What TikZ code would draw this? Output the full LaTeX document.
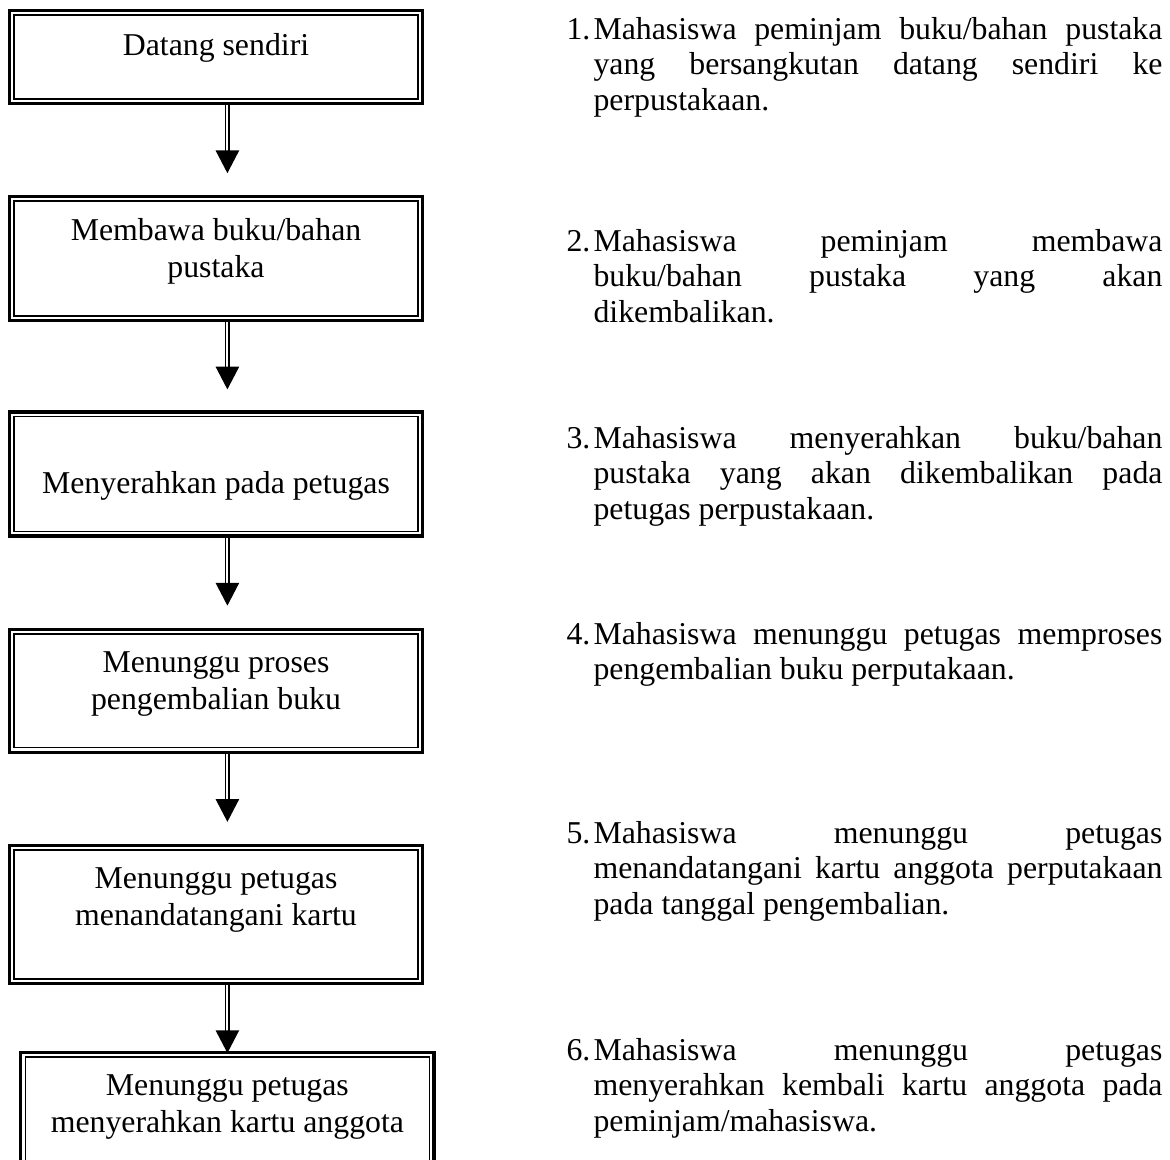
\documentclass[tikz,border=0pt]{standalone}
\usepackage{fontspec}
\setmainfont{Liberation Serif}
\usepackage{tikz}
\usetikzlibrary{
    arrows.meta,
    positioning
}

\begin{document}
\begin{tikzpicture}[
        x=0.3774pt,
        y=0.3774pt,
        node distance=34pt,
        stepbox/.style={
            rectangle,
            draw,
            line width=1.2pt,
            inner sep=0pt,
            minimum width=155.9pt
        },
        boxtext/.style={
            align=center,
            inner sep=0pt,
            font=\fontsize{12}{14}\selectfont
        },
        desc/.style={
            anchor=base west,
            inner sep=0pt,
            text width=224.9pt,
            align=justify,
            font=\fontsize{12}{13.4}\selectfont,
            execute at begin node={\tolerance=10000\hbadness=10000\hyphenpenalty=10000\hangindent=10.2pt\hangafter=1}
        },
        line/.style={
            double,
            double distance=0.8pt,
            line width=0.6pt,
            -{Triangle[width=8.8pt,length=8.6pt]},
            shorten >=8.3pt
        }
    ]

    \useasboundingbox (0,0) rectangle (1170,-1159);

    % flow boxes
    \node[stepbox, minimum height=35.1pt] (s1) at (216,-57) {};
    \node[stepbox, minimum height=46.8pt, below=of s1] (s2) {};
    \node[stepbox, minimum height=46.8pt, below=33.2pt of s2] (s3) {};
    \node[stepbox, minimum height=46.4pt, below=of s3] (s4) {};
    \node[stepbox, minimum height=52.1pt, below=of s4] (s5) {};
    \node[stepbox, minimum height=47.2pt, below=24.9pt of s5, xshift=4.3pt] (s6) {};

    % inner border line
    \foreach \n in {s1,s2,s3,s4,s5,s6}
        \draw[line width=0.6pt] ([shift={(2.3pt,-2.3pt)}]\n.north west)
            rectangle ([shift={(-2.3pt,2.3pt)}]\n.south east);

    \node[boxtext] (t1) at ([yshift=-14.6pt]s1.north) {Datang sendiri};
    \node[boxtext] (t2) at ([yshift=-21.3pt]s2.north) {Membawa buku/bahan\\pustaka};
    \node[boxtext] (t3) at ([yshift=-28.5pt]s3.north) {Menyerahkan pada petugas};
    \node[boxtext] (t4) at ([yshift=-21.3pt]s4.north) {Menunggu proses\\pengembalian buku};
    \node[boxtext] (t5) at ([yshift=-21.3pt]s5.north) {Menunggu petugas\\menandatangani kartu};
    \node[boxtext] (t6) at ([yshift=-21pt]s6.north) {Menunggu petugas\\menyerahkan kartu anggota};

    % descriptions
    \node[desc] (d1) at (566,-39)
        {\makebox[10.2pt][l]{1.}Mahasiswa peminjam buku/bahan pustaka\linebreak
         yang bersangkutan datang sendiri ke\linebreak perpustakaan.};
    \node[desc] (d2) at (566,-251)
        {\makebox[10.2pt][l]{2.}Mahasiswa peminjam membawa\linebreak
         buku/bahan pustaka yang akan\linebreak dikembalikan.};
    \node[desc] (d3) at (566,-448)
        {\makebox[10.2pt][l]{3.}Mahasiswa menyerahkan buku/bahan\linebreak
         pustaka yang akan dikembalikan pada\linebreak petugas perpustakaan.};
    \node[desc] (d4) at (566,-644)
        {\makebox[10.2pt][l]{4.}Mahasiswa menunggu petugas memproses\linebreak
         pengembalian buku perputakaan.};
    \node[desc] (d5) at (566,-843)
        {\makebox[10.2pt][l]{5.}Mahasiswa menunggu petugas\linebreak
         menandatangani kartu anggota perputakaan\linebreak pada tanggal pengembalian.};
    \node[desc] (d6) at (566,-1060)
        {\makebox[10.2pt][l]{6.}Mahasiswa menunggu petugas\linebreak
         menyerahkan kembali kartu anggota pada\linebreak peminjam/mahasiswa.};

    \draw[line] (s1.south -| s6) -- (s2.north -| s6);
    \draw[line, shorten >=7.9pt] (s2.south -| s6) -- (s3.north -| s6);
    \draw[line] (s3.south -| s6) -- (s4.north -| s6);
    \draw[line] (s4.south -| s6) -- (s5.north -| s6);
    \draw[line, shorten >=-0.75pt] (s5.south -| s6) -- (s6);

\end{tikzpicture}
\end{document}
